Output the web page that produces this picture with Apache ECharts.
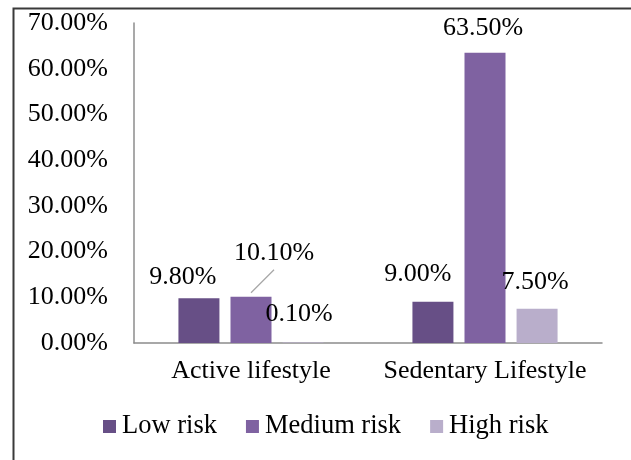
<!DOCTYPE html>
<html>
<head>
<meta charset="utf-8">
<script src="https://cdn.jsdelivr.net/npm/echarts@6/dist/echarts.min.js"></script>
<style>
  html, body { margin: 0; padding: 0; background: #fff; }
  #chart { width: 631px; height: 460px; }
</style>
</head>
<body>
<div id="chart"></div>
<script>
// Risk level share by lifestyle group (percent)
const categories = ['Active lifestyle', 'Sedentary Lifestyle'];
const seriesNames = ['Low risk', 'Medium risk', 'High risk'];
const lowRisk = [9.8, 9.0];
const mediumRisk = [10.1, 63.5];
const highRisk = [0.1, 7.5];
const yTicks = { min: 0, max: 70, interval: 10 };

const FONT = '"Liberation Serif", "Times New Roman", serif';
const FS = 26;
const colors = ['#674F86', '#7F62A1', '#B9AECB'];

// label shifts (dx, dy) from each bar's top centre, per series and category
const labelShift = [
  [[-16, -21], [-15, -28]],
  [[23, -44], [-2, -25]],
  [[-4, -28], [-2, -27]]
];

const values = [lowRisk, mediumRisk, highRisk];

const chart = echarts.init(document.getElementById('chart'), null, { renderer: 'canvas' });

const series = seriesNames.map((name, s) => ({
  name,
  type: 'bar',
  barWidth: 41,
  barGap: '27%',
  itemStyle: { color: colors[s] },
  label: {
    show: true,
    position: 'top',
    distance: 0,
    align: 'center',
    verticalAlign: 'middle',
    formatter: (p) => p.value.toFixed(2) + '%',
    fontFamily: FONT,
    fontSize: FS,
    color: '#000'
  },
  labelLayout: (params) => {
    const [dx, dy] = labelShift[s][params.dataIndex];
    return { dx, dy };
  },
  data: values[s]
}));

const border = {
  type: 'rect',
  left: 11,
  top: 6,
  shape: { width: 660, height: 520 },
  style: { fill: 'none', stroke: '#3A3A3A', lineWidth: 2 },
  silent: true
};

chart.setOption({
  animation: false,
  backgroundColor: '#fff',
  grid: { left: 134, right: 29, top: 23, bottom: 117, containLabel: false },
  legend: {
    data: seriesNames,
    left: 98,
    top: 408,
    itemWidth: 13,
    itemHeight: 13,
    itemGap: 29,
    icon: 'rect',
    textStyle: { fontFamily: FONT, fontSize: 26.5, color: '#000', padding: [0, 0, 0, 1] }
  },
  xAxis: {
    type: 'category',
    data: categories,
    axisLine: { show: true, lineStyle: { color: '#8C8C8C', width: 1.5 } },
    axisTick: { show: false },
    axisLabel: { interval: 0, fontFamily: FONT, fontSize: FS, color: '#000', margin: 15 }
  },
  yAxis: {
    type: 'value',
    min: yTicks.min,
    max: yTicks.max,
    interval: yTicks.interval,
    axisLine: { show: true, lineStyle: { color: '#8C8C8C', width: 1.5 } },
    axisTick: { show: false },
    splitLine: { show: false },
    axisLabel: {
      fontFamily: FONT,
      fontSize: FS,
      color: '#000',
      margin: 26,
      formatter: (v) => v.toFixed(2) + '%'
    }
  },
  graphic: [border],
  series
});

// leader line from the first medium-risk bar (middle bar of its group) to its set-aside label
const [barX, barTop] = chart.convertToPixel({ seriesIndex: 1 }, [0, mediumRisk[0]]);
const [ldx, ldy] = labelShift[1][0];
chart.setOption({
  graphic: [border, {
    type: 'line',
    shape: { x1: barX, y1: barTop - 4, x2: barX + ldx, y2: barTop + ldy + 17 },
    style: { stroke: '#A6A6A6', lineWidth: 1.3 },
    silent: true
  }]
});
</script>
</body>
</html>
